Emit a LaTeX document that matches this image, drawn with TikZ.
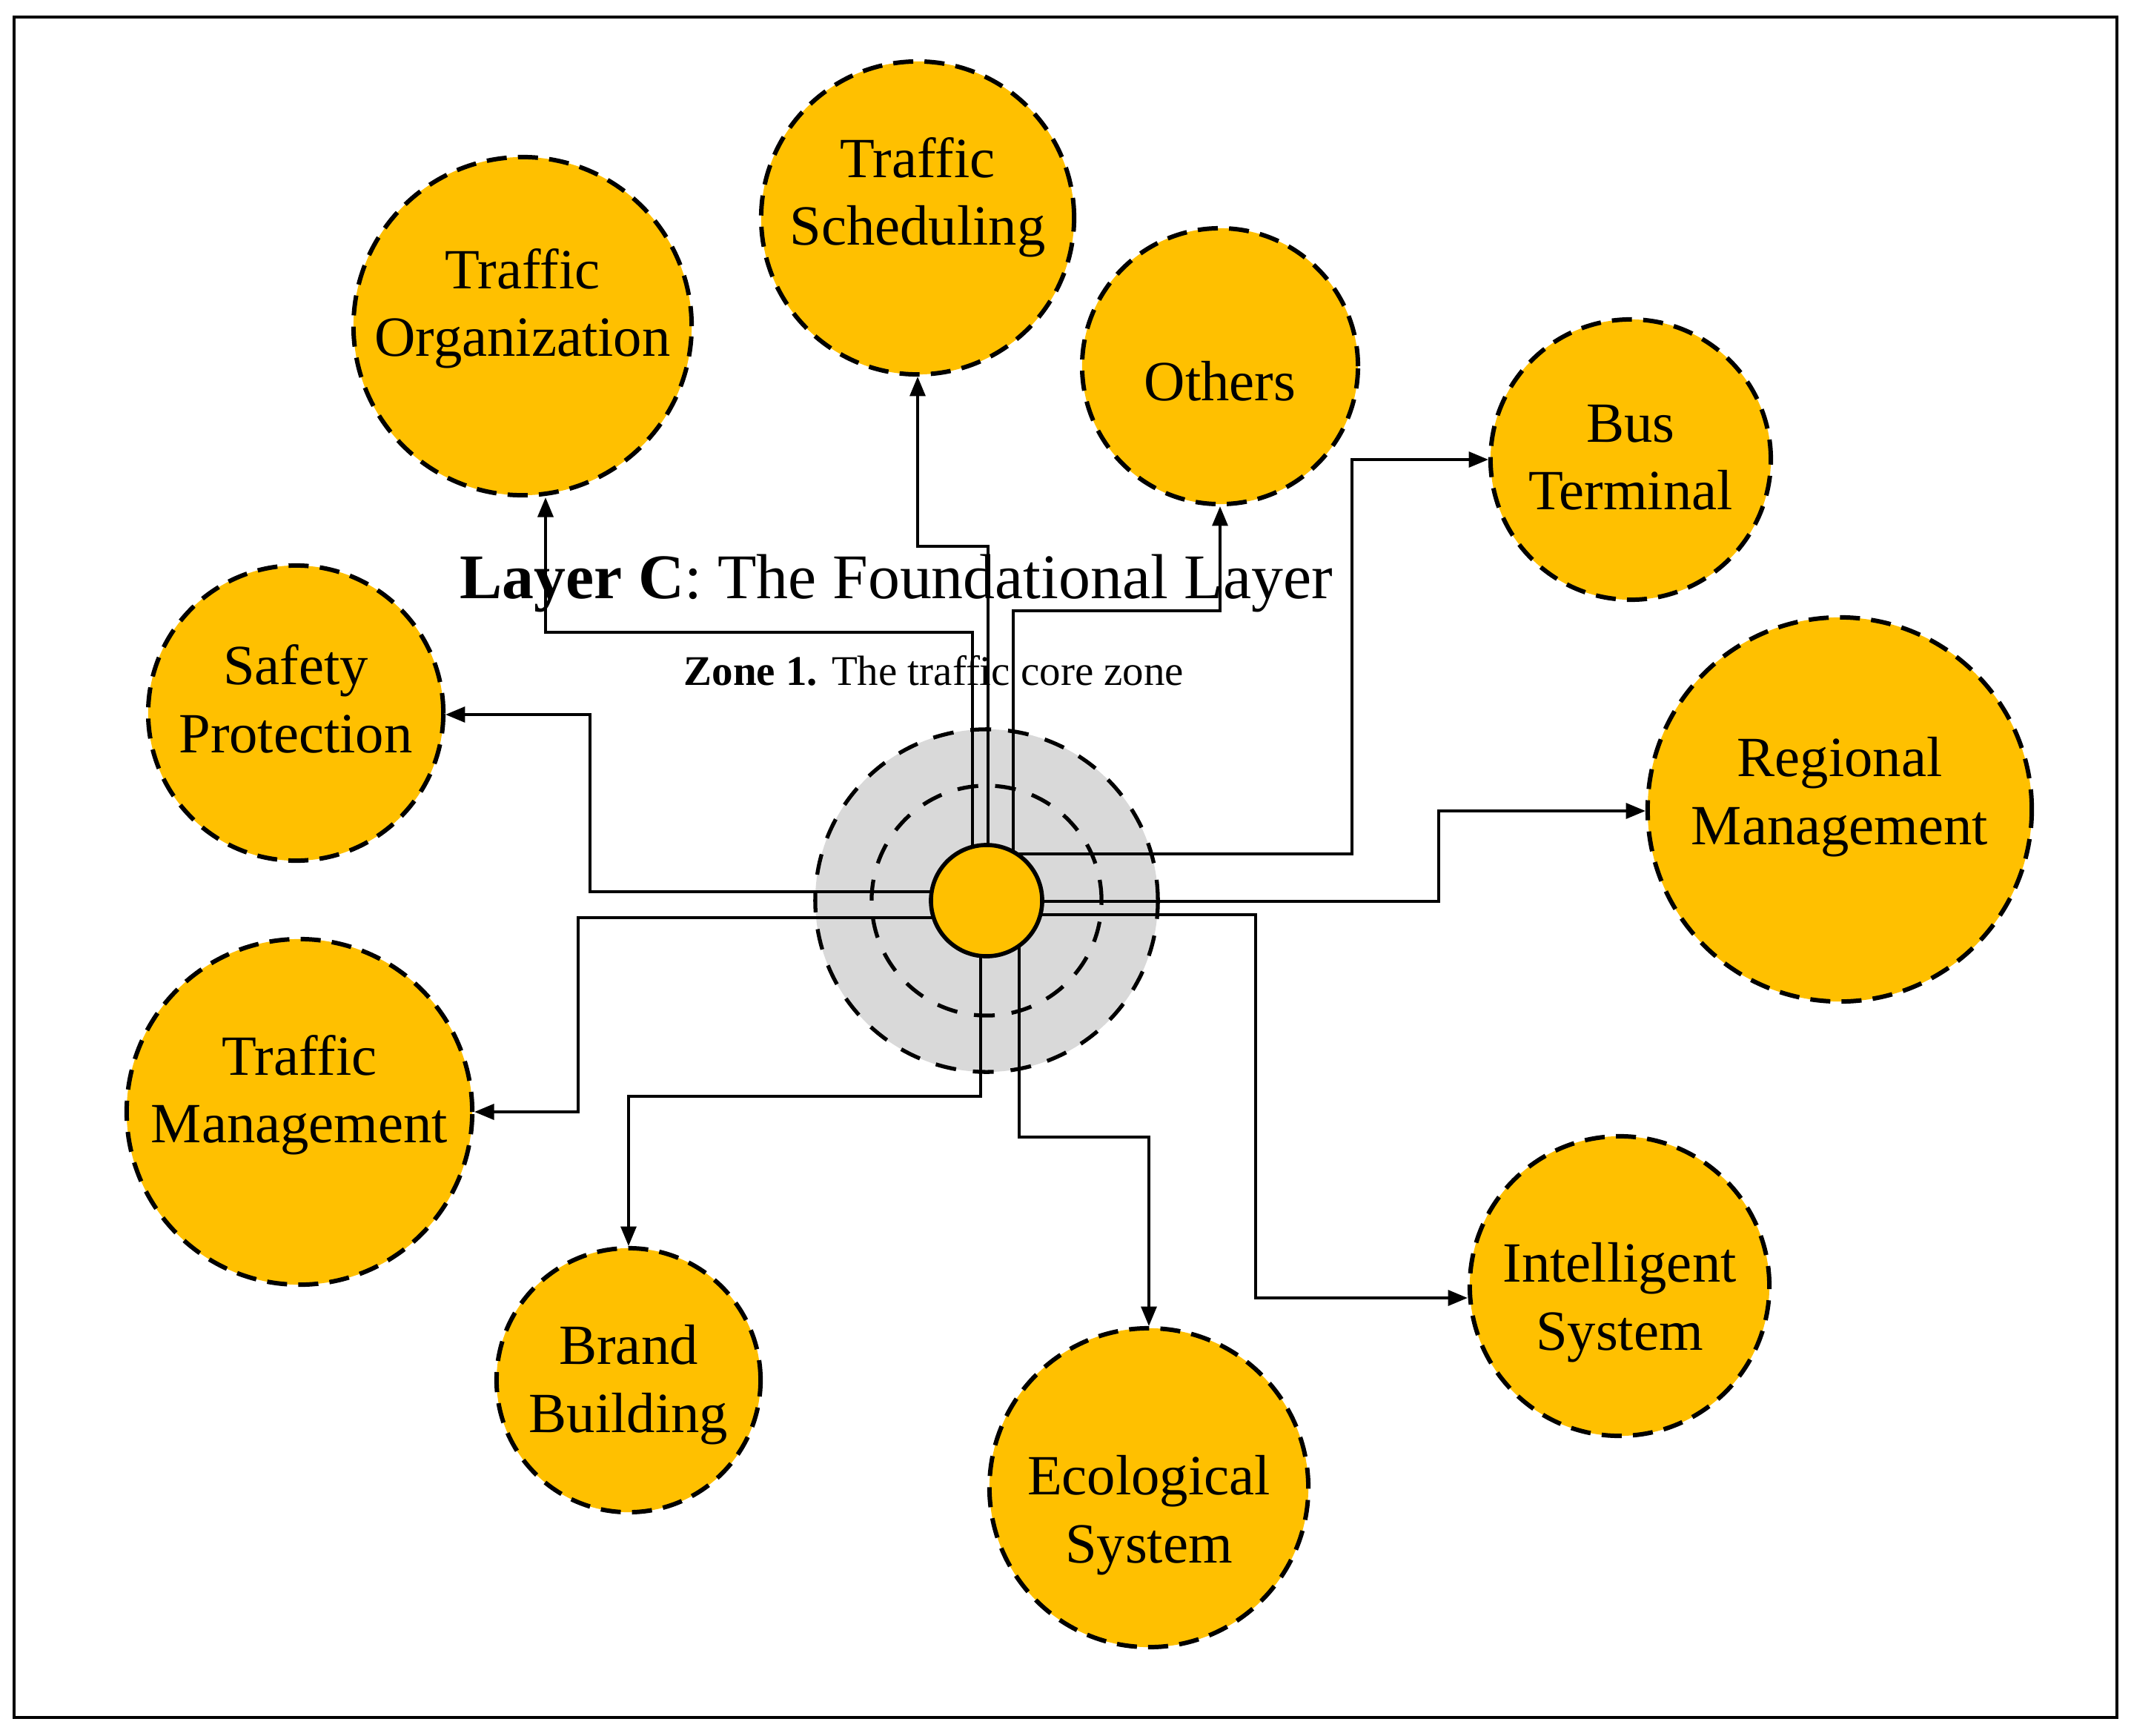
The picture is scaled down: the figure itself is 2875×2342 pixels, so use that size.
\documentclass[tikz,border=0pt]{standalone}
\usepackage{fontspec}
\setmainfont{Liberation Serif}
\usepackage{xcolor}
\usetikzlibrary{arrows.meta, positioning, calc}
\definecolor{gold}{HTML}{FFC000}
\definecolor{ringgray}{HTML}{D9D9D9}

\begin{document}
\begin{tikzpicture}[x=0.01cm, y=-0.01cm,
    bubble/.style={circle, fill=gold, draw=black, line width=1.7pt, dash pattern=on 7.7pt off 4.3pt, inner sep=0pt},
    btext/.style={align=center, inner sep=0pt, font=\fontsize{21.8}{26}\selectfont},
    ring/.style={circle, draw=black, line width=1.5pt, dash pattern=on 8pt off 6.5pt, inner sep=0pt},
    link/.style={draw=black, line width=0.9pt, -{Triangle[length=7.5pt, width=6pt]}}]
    \useasboundingbox (0,0) rectangle (2875,2342);
    \draw[line width=0.9pt] (19,23) rectangle (2856,2317);

    % 中心区域
    \coordinate (hub) at (1331,1215);
    \node[ring, fill=ringgray, minimum size=4.62cm] (outerring) at (hub) {};
    \node[ring, minimum size=3.1cm] (innerring) at (hub) {};

    % 标题
    \node[anchor=base west, inner sep=0pt, font=\fontsize{24.4}{29}\selectfont] (title) at (620,807) {\textbf{Layer C}: The Foundational Layer};
    \node[anchor=base west, inner sep=0pt, font=\fontsize{16.2}{19}\selectfont] (zone) at (922,924) {\textbf{Zone 1.} The traffic core zone};

    % 外围圆
    \node[bubble, minimum size=4.56cm] (torg) at (705,440) {};
    \node[bubble, minimum size=4.22cm] (tsch) at (1238,294) {};
    \node[bubble, minimum size=3.72cm] (oth) at (1646,494) {};
    \node[bubble, minimum size=3.78cm] (bus) at (2200,620) {};
    \node[bubble, minimum size=5.18cm] (reg) at (2482,1092) {};
    \node[bubble, minimum size=4.04cm] (intel) at (2185,1735) {};
    \node[bubble, minimum size=4.3cm] (eco) at (1550,2007) {};
    \node[bubble, minimum size=3.56cm] (brand) at (848,1862) {};
    \node[bubble, minimum size=4.66cm] (tm) at (404,1500) {};
    \node[bubble, minimum size=3.98cm] (safe) at (399,962) {};

    % 圆内文字
    \node[btext] (torg-t) at ($(torg)+(0,-24)$) {Traffic\\Organization};
    \node[btext] (tsch-t) at ($(tsch)+(0,-28)$) {Traffic\\Scheduling};
    \node[btext] (oth-t) at ($(oth)+(0,20)$) {Others};
    \node[btext] (bus-t) at ($(bus)+(0,-3)$) {Bus\\Terminal};
    \node[btext] (reg-t) at ($(reg)+(0,-17)$) {Regional\\Management};
    \node[btext] (intel-t) at ($(intel)+(0,22)$) {Intelligent\\System};
    \node[btext] (eco-t) at ($(eco)+(0,37)$) {Ecological\\System};
    \node[btext] (brand-t) at ($(brand)+(0,6)$) {Brand\\Building};
    \node[btext] (tm-t) at ($(tm)+(0,-23)$) {Traffic\\Management};
    \node[btext] (safe-t) at ($(safe)+(0,-19)$) {Safety\\Protection};

    % 连接线
    \draw[link] ($(hub)+(-19,0)$) |- (736,853) -- (torg.south -| 736,853);
    \draw[link] ($(hub)+(2,0)$) |- (1238,737) -- (tsch.south);
    \draw[link] ($(hub)+(36,0)$) |- (1646,824) -- (oth.south);
    \draw[link] ($(hub)+(0,-63)$) -| (1824,620) -- (bus.west);
    \draw[link] ($(hub)+(0,1)$) -| (1941,1094) -- (reg.west |- 1941,1094);
    \draw[link] ($(hub)+(0,19)$) -| (1694,1751) -- (intel.west |- 1694,1751);
    \draw[link] ($(hub)+(44,0)$) |- (1550,1534) -- (eco.north);
    \draw[link] ($(hub)+(-8,0)$) |- (848,1479) -- (brand.north);
    \draw[link] ($(hub)+(0,23)$) -| (780,1500) -- (tm.east);
    \draw[link] ($(hub)+(0,-12)$) -| (796,964) -- (safe.east |- 796,964);

    % 中心圆
    \node[circle, fill=gold, draw=black, line width=1.6pt, minimum size=1.5cm, inner sep=0pt] (hubdot) at (hub) {};
\end{tikzpicture}
\end{document}
